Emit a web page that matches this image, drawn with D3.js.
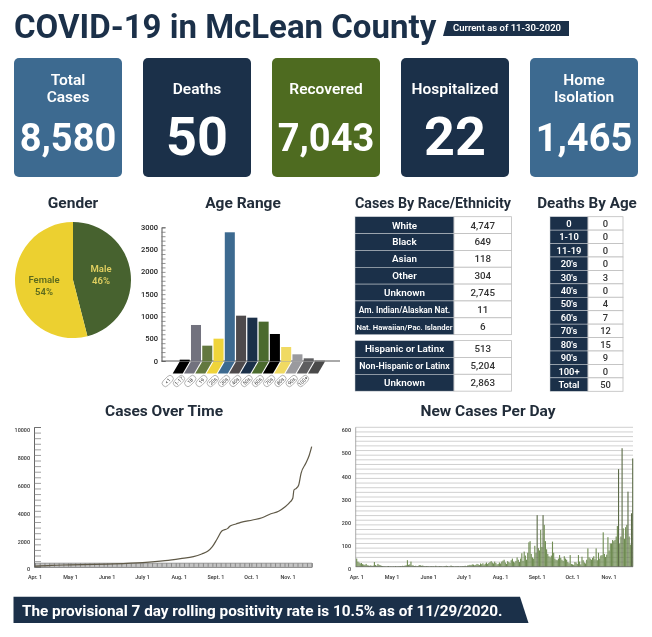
<!DOCTYPE html>
<html><head><meta charset="utf-8">
<script src="https://cdnjs.cloudflare.com/ajax/libs/d3/7.8.5/d3.min.js"></script>
<style>html,body{margin:0;padding:0;background:#fff}svg{display:block;filter:blur(.3px)}text{font-family:Roboto,sans-serif}</style>
</head><body><svg id="c" width="652" height="637"></svg>
<script>
const titleText="COVID-19 in McLean County", dateTag="Current as of 11-30-2020";
const cardLabels=[["Total","Cases"],["Deaths"],["Recovered"],["Hospitalized"],["Home","Isolation"]];
const cardValues=["8,580","50","7,043","22","1,465"];
const cardColors=["#3d6a90","#1b3049","#4e6b20","#1b3049","#3d6a90"];
const genderNames=["Male","Female"], genderValues=[46,54];
const ageLabels=["<1","1-17","18","19","20s","30s","40s","50s","60s","70s","80s","90s","100+"];
const ageValues=[30,808,344,501,2888,1017,972,883,606,314,150,60,5];
const ageColors=["#000000","#72727e","#63783f","#efd43a","#3d6a90","#4e4a4c","#1b3049","#4b6a2e","#000000","#f0da62","#9a9a9e","#5e5e60","#4a4a4a"];
const raceNames=["White","Black","Asian","Other","Unknown","Am. Indian/Alaskan Nat.","Nat. Hawaiian/Pac. Islander"];
const raceValues=["4,747","649","118","304","2,745","11","6"];
const ethNames=["Hispanic or Latinx","Non-Hispanic or Latinx","Unknown"];
const ethValues=["513","5,204","2,863"];
const deathNames=["0","1-10","11-19","20's","30's","40's","50's","60's","70's","80's","90's","100+","Total"];
const deathValues=["0","0","0","0","3","0","4","7","12","15","9","0","50"];
const monthTicks=["Apr. 1","May 1","June 1","July 1","Aug. 1","Sept. 1","Oct. 1","Nov. 1"];
const monthDates=["2020-04-01","2020-05-01","2020-06-01","2020-07-01","2020-08-01","2020-09-01","2020-10-01","2020-11-01"];
const cumDates=["2020-04-01","2020-04-15","2020-05-01","2020-06-01","2020-07-01","2020-07-20","2020-08-02","2020-08-13","2020-08-20","2020-08-25","2020-08-29","2020-09-02","2020-09-06","2020-09-11","2020-09-13","2020-09-18","2020-09-22","2020-10-02","2020-10-10","2020-10-17","2020-10-24","2020-10-29","2020-11-03","2020-11-05","2020-11-06","2020-11-08","2020-11-10","2020-11-12","2020-11-16","2020-11-19","2020-11-21"];
const cumValues=[40,100,130,190,290,430,575,716,909,1100,1433,1983,2555,2745,2913,3060,3178,3343,3507,3772,3965,4252,4653,4896,5490,5612,5850,6685,7400,8000,8590];
const newApr=[35,22,18,14,16,11,9,8,12,6,5,4,6,3,5,20,7,4,12,8,6,4,3,2,2,1,2,3,1,2];
const newMay=[1,2,1,3,1,2,2,3,2,4,3,5,6,28,8,10,22,6,5,3,4,2,3,7,6,4,5,3,2,3,2];
const newJun=[2,1,3,2,2,1,4,2,1,3,2,2,1,2,3,4,3,1,2,5,3,2,1,2,2,3,1,2,2,3];
const newJul=[3,4,2,5,6,8,7,10,9,6,8,12,10,7,14,11,15,9,13,18,12,16,20,24,18,14,22,16,10,12,18];
const newAug=[14,22,26,30,18,12,24,20,16,28,35,22,18,25,40,30,20,35,58,25,65,48,30,60,105,110,55,40,35,90,60];
const newSep=[222,80,70,158,85,222,180,110,75,55,45,40,48,108,60,35,30,28,35,50,38,30,25,45,35,30,20,15,50,12];
const newOct=[10,8,20,18,12,50,22,10,43,28,18,14,30,79,40,35,30,38,45,32,79,28,60,35,48,50,148,55,42,52,127];
const newNov=[70,100,100,115,110,115,130,175,420,100,130,510,165,120,170,180,323,130,95,230,466];
const bannerText="The provisional 7 day rolling positivity rate is 10.5% as of 11/29/2020.";

const NAVY="#1b3049", INK="#222d3a";
const svg=d3.select("#c");
const heading=(t,x,y,s=15.5)=>svg.append("text").attr("x",x).attr("y",y).attr("text-anchor","middle").attr("font-size",s).attr("font-weight",700).attr("fill",INK).text(t);

/* title */
svg.append("text").attr("x",14).attr("y",38).attr("font-size",33).attr("font-weight",700).attr("fill",NAVY).text(titleText);
svg.append("path").attr("d","M447 21H569V36H443Z").attr("fill",NAVY);
svg.append("text").attr("x",507).attr("y",31.4).attr("text-anchor","middle").attr("font-size",9.5).attr("font-weight",600).attr("fill","#fff").text(dateTag);

/* cards */
const cardX=d3.scalePoint().domain(d3.range(5)).range([14,530]);
cardValues.forEach((v,i)=>{
  const g=svg.append("g").attr("transform",`translate(${cardX(i)},58)`);
  g.append("rect").attr("width",108).attr("height",119).attr("rx",5).attr("fill",cardColors[i]);
  const lab=cardLabels[i];
  lab.forEach((l,j)=>g.append("text").attr("x",54).attr("y",lab.length==2?27+j*17:36).attr("text-anchor","middle").attr("font-size",15.5).attr("font-weight",600).attr("fill","#fff").text(l));
  const big=v.length<3;
  g.append("text").attr("x",54).attr("y",big?97:93).attr("text-anchor","middle").attr("font-size",big?54:38).attr("font-weight",700).attr("fill","#fff").text(v);
});

/* gender pie */
heading("Gender",73,208);
const pieG=svg.append("g").attr("transform","translate(73,280)");
const arcs=d3.pie().sort(null)(genderValues);
const arc=d3.arc().innerRadius(0).outerRadius(58);
pieG.selectAll("path").data(arcs).join("path").attr("d",arc).attr("fill",(d,i)=>i?"#ecd030":"#47622f");
[[28,-8,0],[-29,3,1]].forEach(([x,y,i])=>{
  const c=i?"#5c6a1e":"#e0cf60";
  pieG.append("text").attr("x",x).attr("y",y).attr("text-anchor","middle").attr("font-size",9.5).attr("font-weight",600).attr("fill",c).text(genderNames[i]);
  pieG.append("text").attr("x",x).attr("y",y+11.5).attr("text-anchor","middle").attr("font-size",9.5).attr("font-weight",600).attr("fill",c).text(genderValues[i]+"%");
});

/* age range */
heading("Age Range",243,208);
const ageY=d3.scaleLinear().domain([0,3000]).range([361,227.3]);
const ageX=d3.scaleBand().domain(ageLabels).range([179.7,325]).paddingInner(0.11).paddingOuter(0);
const ageG=svg.append("g");
ageG.append("g").attr("transform","translate(161.5,0)").call(d3.axisRight(ageY).tickValues(d3.range(0,3001,100)).tickSize(4).tickFormat("")).call(g=>{g.selectAll("path").attr("stroke","#555");g.selectAll("line").attr("stroke","#777").attr("stroke-width",.8)});
ageG.append("line").attr("x1",161.5).attr("x2",340).attr("y1",ageY(0)).attr("y2",ageY(0)).attr("stroke","#555");
ageY.ticks(6).forEach(t=>ageG.append("text").attr("x",158).attr("y",ageY(t)+2.6).attr("text-anchor","end").attr("font-size",7.5).attr("font-weight",500).attr("fill","#222").text(t));
const bw=ageX.bandwidth(), sx=7, sy=12;
ageLabels.forEach((l,i)=>{
  const x=ageX(l), v=ageValues[i], c=ageColors[i];
  ageG.append("rect").attr("x",x).attr("y",ageY(v)).attr("width",bw).attr("height",ageY(0)-ageY(v)).attr("fill",c);
  ageG.append("path").attr("d",`M${x} ${ageY(0)+.5}h${bw}l${-sx} ${sy}h${-bw}Z`).attr("fill",c);
  const cx=x+bw/2-sx-10, cy=ageY(0)+sy+8;
  const p=ageG.append("g").attr("transform",`translate(${cx},${cy}) rotate(-45)`);
  p.append("rect").attr("x",-6.5).attr("y",-3.3).attr("width",13).attr("height",6.6).attr("rx",3.3).attr("fill","#fff").attr("stroke","#888").attr("stroke-width",.6);
  p.append("text").attr("y",1.8).attr("text-anchor","middle").attr("font-size",5).attr("fill","#333").text(l);
});

/* tables */
function table(names,vals,x0,x1,x2,y0,rowH,fs){
  names.forEach((n,i)=>{
    const y=y0+i*rowH;
    svg.append("rect").attr("x",x0).attr("y",y).attr("width",x1-x0).attr("height",rowH).attr("fill",NAVY).attr("stroke","#cfd3d8").attr("stroke-width",.5);
    svg.append("rect").attr("x",x1).attr("y",y).attr("width",x2-x1).attr("height",rowH).attr("fill","#fff").attr("stroke","#bdbdbd").attr("stroke-width",.8);
    const f=n.length>24?7.7:(n.length==23?8.4:(n.length>18?8.8:fs));
    svg.append("text").attr("x",(x0+x1)/2).attr("y",y+rowH/2+3.4).attr("text-anchor","middle").attr("font-size",f).attr("font-weight",600).attr("fill","#fff").text(n);
    svg.append("text").attr("x",(x1+x2)/2).attr("y",y+rowH/2+3.4).attr("text-anchor","middle").attr("font-size",fs).attr("font-weight",500).attr("fill","#333").text(vals[i]);
  });
}
heading("Cases By Race/Ethnicity",433,208,14.3);
table(raceNames,raceValues,355,454,511.5,216.7,16.85,9.8);
table(ethNames,ethValues,355,454,511.5,340.6,16.85,9.8);
heading("Deaths By Age",587,208,15.2);
table(deathNames,deathValues,550,588,623,216.7,13.43,9.4);

/* time scales */
const parse=d3.utcParse("%Y-%m-%d");
const tickDates=monthDates.map(parse);
const labelFor=(g,x,y0,txt)=>g.append("text").attr("x",x).attr("y",y0).attr("text-anchor","middle").attr("font-size",5.4).attr("font-weight",600).attr("fill","#444").text(txt);
const endDate=parse(cumDates[cumDates.length-1]);

/* cases over time */
heading("Cases Over Time",164,416);
const cx=d3.scaleUtc().domain([tickDates[0],endDate]).range([35,311.7]);
const cy=d3.scaleLinear().domain([0,10000]).range([566.7,427]);
const cg=svg.append("g");
cg.append("rect").attr("x",34).attr("y",563.2).attr("width",278).attr("height",3.6).attr("fill","#c4c4c4");
cg.append("g").attr("transform","translate(0,566.8)").call(d3.axisBottom(cx).ticks(d3.utcDay.every(4)).tickSize(-3.6).tickFormat("")).call(g=>{g.select("path").attr("stroke","#777");g.selectAll("line").attr("stroke","#888").attr("stroke-width",1)});
cg.append("line").attr("x1",34).attr("x2",312).attr("y1",563.2).attr("y2",563.2).attr("stroke","#888").attr("stroke-width",.8);
cg.append("g").attr("transform","translate(34,0)").call(d3.axisRight(cy).tickValues(d3.range(0,10001,400)).tickSize(7).tickFormat("")).call(g=>{g.select("path").attr("stroke","#666");g.selectAll("line").attr("stroke","#777").attr("stroke-width",.7)});
d3.range(0,10001,2000).forEach(t=>cg.append("text").attr("x",30).attr("y",cy(t)+(t?4.8:4.5)).attr("text-anchor","end").attr("font-size",5.4).attr("font-weight",600).attr("fill","#444").text(t));
monthTicks.forEach((m,i)=>labelFor(cg,cx(tickDates[i]),578.5,m));
cg.append("path").datum(cumValues).attr("d",d3.line().x((d,i)=>cx(parse(cumDates[i]))).y(d=>cy(d)).curve(d3.curveMonotoneX)).attr("fill","none").attr("stroke","#5f5947").attr("stroke-width",1.2);

/* new cases */
heading("New Cases Per Day",488,416);
const newValues=[...newApr,...newMay,...newJun,...newJul,...newAug,...newSep,...newOct,...newNov];
const nx=d3.scaleUtc().domain([tickDates[0],endDate]).range([356.7,632.7]);
const ny=d3.scaleLinear().domain([0,600]).range([566.7,427.3]);
const ng=svg.append("g");
d3.range(20,601,20).forEach(t=>ng.append("line").attr("x1",355.7).attr("x2",633).attr("y1",ny(t)).attr("y2",ny(t)).attr("stroke","#c4c4c4").attr("stroke-width",.8));
ng.append("line").attr("x1",355.7).attr("x2",355.7).attr("y1",ny(600)).attr("y2",ny(0)).attr("stroke","#888").attr("stroke-width",.7);
d3.range(0,601,100).forEach(t=>ng.append("text").attr("x",351).attr("y",ny(t)+(t?4.8:4.5)).attr("text-anchor","end").attr("font-size",5.4).attr("font-weight",600).attr("fill","#444").text(t));
monthTicks.forEach((m,i)=>labelFor(ng,nx(tickDates[i]),578.5,m));
const t0=tickDates[0];
ng.selectAll("rect").data(newValues).join("rect")
  .attr("x",(d,i)=>nx(d3.utcDay.offset(t0,i))-.55).attr("y",d=>ny(d)).attr("width",1.1).attr("height",d=>ny(0)-ny(d))
  .attr("fill",d=>d>200?"#5c6b48":"#6f8c52");
ng.append("line").attr("x1",355.7).attr("x2",633).attr("y1",ny(0)).attr("y2",ny(0)).attr("stroke","#555").attr("stroke-width",.7);

/* banner */
svg.append("path").attr("d","M13.5 596.7H520L528.5 623H13.5Z").attr("fill",NAVY);
svg.append("text").attr("x",22).attr("y",616).attr("font-size",15.3).attr("font-weight",700).attr("fill","#fff").text(bannerText);
</script></body></html>
